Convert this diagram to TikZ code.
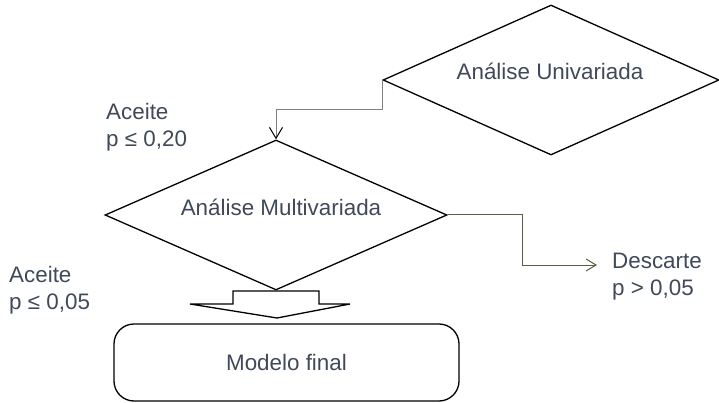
\documentclass[tikz,border=0pt]{standalone}
\usepackage{fontspec}
\setmainfont{Liberation Sans}
\usetikzlibrary{shapes.geometric,arrows.meta}
\definecolor{txt}{HTML}{3E4A5B}
\definecolor{olivec}{HTML}{5E5E3E}
\definecolor{connc}{HTML}{808080}
\begin{document}
\begin{tikzpicture}[x=1pt,y=-1pt,
  every node/.style={font=\fontsize{22.4}{27}\selectfont, text=txt},
  decision/.style={draw=black, line width=1.3pt, diamond, aspect=2.24,
    minimum width=336pt, minimum height=150pt, inner sep=0pt},
  lbl/.style={anchor=base west, align=left, inner sep=0pt},
  conn/.style={line width=1pt}]
\useasboundingbox (0,0) rectangle (719,403);
\node[decision] (uni) at (551,80) {};
\node[anchor=base, inner sep=0pt] (unitext) at (550,80) {Análise Univariada};
\node[decision, minimum width=342pt] (multi) at (276,215) {};
\node[anchor=base, inner sep=0pt] (multitext) at (281,215) {Análise Multivariada};
\node[draw=black, line width=1.3pt, rounded corners=20pt,
  minimum width=345pt, minimum height=77pt] (final) at (286.5,362.5) {Modelo final};
% block arrow from multi to final
\draw[line width=1.3pt, fill=white] (233,291) -- (319,291) -- (319,304) -- (350,304)
  -- (277,318) -- (190,304) -- (233,304) -- cycle;
% connectors
\draw[conn, connc, -{Straight Barb[length=11pt,width=13pt,black]}]
  (uni.west) -- ++(0,30) -| (multi.north);
\coordinate (dtip) at (597,265);
\draw[conn, olivec, -{Straight Barb[length=10pt,width=12pt]}]
  (multi.east) -- (522,215) |- (dtip);
% labels (base = baseline of the last line)
\node[lbl] (acc1) at (106,147) {Aceite\\p ≤ 0,20};
\node[lbl] (acc2) at (9,309) {Aceite\\p ≤ 0,05};
\node[lbl] (desc) at (612,295) {Descarte\\p > 0,05};
\end{tikzpicture}
\end{document}
